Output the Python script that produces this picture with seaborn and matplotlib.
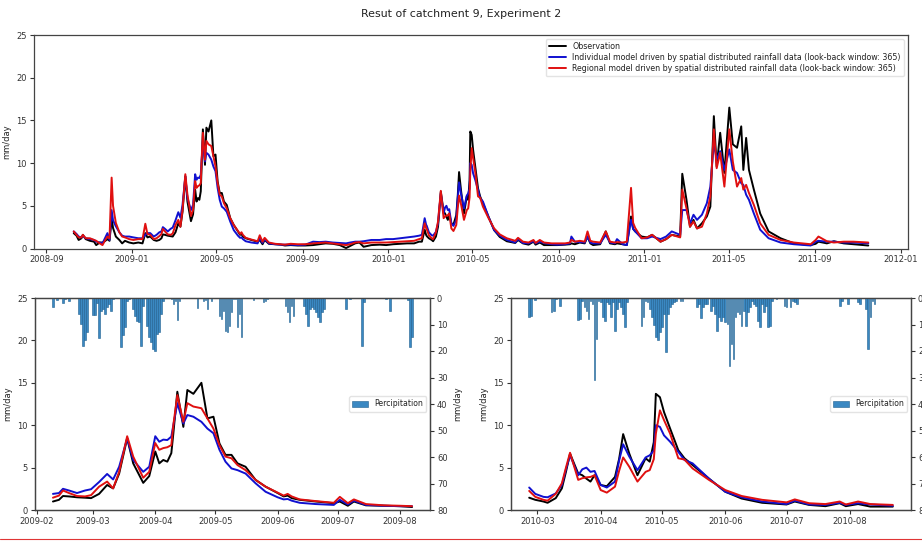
import numpy as np
import pandas as pd
import matplotlib
matplotlib.use("Agg")
import matplotlib.pyplot as plt
import matplotlib.dates as mdates
from matplotlib.lines import Line2D
import seaborn as sns

# ---------------- data ----------------
dates = [
    "2008-10-10", "2008-10-14", "2008-10-17", "2008-10-21", "2008-10-23", "2008-10-27",
    "2008-11-02", "2008-11-08", "2008-11-11", "2008-11-16", "2008-11-20", "2008-11-24",
    "2008-11-27", "2008-11-30", "2008-12-03", "2008-12-05", "2008-12-09", "2008-12-14",
    "2008-12-18", "2008-12-22", "2008-12-28", "2009-01-03", "2009-01-10", "2009-01-16",
    "2009-01-20", "2009-01-23", "2009-01-27", "2009-02-01", "2009-02-05",
    # 2009 window
    "2009-02-09", "2009-02-12", "2009-02-14", "2009-02-17", "2009-02-21", "2009-02-25",
    "2009-02-28", "2009-03-04", "2009-03-08", "2009-03-11", "2009-03-14", "2009-03-18",
    "2009-03-21", "2009-03-26", "2009-03-29", "2009-04-01", "2009-04-03", "2009-04-05",
    "2009-04-07", "2009-04-09", "2009-04-10", "2009-04-12", "2009-04-15", "2009-04-17",
    "2009-04-20", "2009-04-24", "2009-04-27", "2009-04-30", "2009-05-03", "2009-05-06",
    "2009-05-09", "2009-05-12", "2009-05-16", "2009-05-21", "2009-05-26", "2009-06-01",
    "2009-06-04", "2009-06-06", "2009-06-08", "2009-06-12", "2009-06-20", "2009-06-29",
    "2009-07-02", "2009-07-06", "2009-07-09", "2009-07-15", "2009-07-24", "2009-08-01",
    "2009-08-07",
    # autumn / winter 2009
    "2009-08-15", "2009-08-25", "2009-09-05", "2009-09-16", "2009-09-25", "2009-10-04",
    "2009-10-14", "2009-10-24", "2009-11-02", "2009-11-08", "2009-11-15", "2009-11-21",
    "2009-11-27", "2009-12-08", "2009-12-20", "2009-12-29", "2010-01-08", "2010-01-18",
    "2010-01-28", "2010-02-07", "2010-02-14", "2010-02-18", "2010-02-22", "2010-02-24",
    # 2010 window
    "2010-02-25", "2010-02-28", "2010-03-04", "2010-03-06", "2010-03-10", "2010-03-13",
    "2010-03-15", "2010-03-17", "2010-03-21", "2010-03-23", "2010-03-25", "2010-03-27",
    "2010-03-29", "2010-04-01", "2010-04-04", "2010-04-08", "2010-04-10", "2010-04-12",
    "2010-04-15", "2010-04-19", "2010-04-23", "2010-04-25", "2010-04-27", "2010-04-28",
    "2010-04-30", "2010-05-02", "2010-05-05", "2010-05-09", "2010-05-12", "2010-05-16",
    "2010-05-24", "2010-06-01", "2010-06-09", "2010-06-19", "2010-07-01", "2010-07-05",
    "2010-07-12", "2010-07-20", "2010-07-27", "2010-07-30", "2010-08-05", "2010-08-11",
    "2010-08-22",
    # autumn 2010 - 2011
    "2010-08-30", "2010-09-10", "2010-09-17", "2010-09-19", "2010-09-24", "2010-10-01",
    "2010-10-08", "2010-10-12", "2010-10-16", "2010-10-20", "2010-10-30", "2010-11-07",
    "2010-11-13", "2010-11-20", "2010-11-23", "2010-12-01", "2010-12-07", "2010-12-13",
    "2010-12-16", "2010-12-19", "2010-12-28", "2011-01-05", "2011-01-12", "2011-01-24",
    "2011-02-01", "2011-02-09", "2011-02-21", "2011-02-24", "2011-03-02", "2011-03-07",
    "2011-03-12", "2011-03-17", "2011-03-24", "2011-03-31", "2011-04-05", "2011-04-10",
    "2011-04-14", "2011-04-19", "2011-04-25", "2011-05-02", "2011-05-07", "2011-05-13",
    "2011-05-19", "2011-05-22", "2011-05-26", "2011-05-30", "2011-06-06", "2011-06-15",
    "2011-06-27", "2011-07-14", "2011-08-02", "2011-08-26", "2011-09-02", "2011-09-06",
    "2011-09-18", "2011-09-28", "2011-10-12", "2011-10-26", "2011-11-16",
]

obs = [
    1.8, 1.5, 1.0, 1.2, 1.6, 1.1, 0.9, 0.8, 0.4, 0.7, 0.7, 0.9, 1.1, 0.9, 3.5, 2.4, 1.4, 1.0,
    0.6, 0.9, 0.7, 0.6, 0.7, 0.6, 1.8, 1.3, 1.4, 1.0, 0.9,
    1.0, 1.2, 1.65, 1.6, 1.5, 1.45, 1.4, 1.9, 2.95, 2.55, 4.3, 8.45, 5.5, 3.2, 4.0, 6.9,
    5.5, 5.9, 5.7, 6.7, 9.0, 13.95, 9.8, 14.15, 13.7, 15.0, 10.8, 11.0, 7.85, 6.5, 6.5,
    5.5, 5.1, 3.55, 2.75, 2.0, 1.6, 1.7, 1.4, 1.2, 1.0, 0.8, 1.0, 0.5, 1.0, 0.55, 0.5,
    0.45, 0.35,
    0.4, 0.35, 0.35, 0.4, 0.5, 0.6, 0.55, 0.4, 0.05, 0.3, 0.6, 0.7, 0.2, 0.4, 0.45, 0.4,
    0.5, 0.55, 0.6, 0.6, 0.8, 0.8, 2.2, 1.6,
    1.45, 1.2, 1.0, 0.85, 1.4, 2.55, 4.5, 6.65, 4.3, 4.1, 3.7, 3.35, 4.1, 2.95, 2.8, 3.9,
    6.0, 8.95, 6.65, 4.1, 6.1, 5.7, 8.0, 13.7, 13.3, 11.55, 9.6, 7.05, 6.1, 5.3, 3.7,
    2.15, 1.35, 0.85, 0.65, 1.0, 0.6, 0.45, 0.8, 0.45, 0.7, 0.4, 0.4,
    0.4, 0.45, 0.5, 0.6, 0.5, 0.7, 0.6, 1.4, 0.6, 0.4, 0.5, 2.0, 0.6, 0.5, 0.6, 0.5, 0.4,
    3.75, 2.3, 2.0, 1.4, 1.3, 1.6, 0.8, 1.1, 1.6, 1.4, 8.75, 5.7, 2.55, 3.35, 2.35, 2.95,
    3.75, 4.9, 15.5, 9.6, 13.55, 8.85, 16.5, 12.2, 11.8, 14.3, 9.2, 12.95, 9.2, 6.9, 4.1,
    2.0, 1.2, 0.6, 0.4, 0.55, 0.8, 0.6, 0.85, 0.6, 0.5, 0.35,
]

ind = [
    2.0, 1.7, 1.4, 1.3, 1.5, 1.2, 1.1, 1.0, 0.8, 0.7, 0.6, 1.3, 1.8, 1.0, 4.5, 3.3, 2.6, 1.9,
    1.5, 1.4, 1.4, 1.3, 1.2, 1.2, 1.6, 1.8, 1.8, 1.4, 1.6,
    1.9, 2.0, 2.5, 2.3, 2.0, 2.3, 2.45, 3.3, 4.25, 3.6, 5.1, 8.45, 5.9, 4.5, 5.1, 8.7,
    8.05, 8.3, 8.25, 8.65, 10.0, 12.6, 10.2, 11.2, 11.0, 10.4, 9.6, 9.05, 7.1, 5.7, 4.9,
    4.7, 4.3, 3.15, 2.15, 1.5, 1.25, 1.3, 1.1, 0.85, 0.7, 0.6, 1.2, 0.65, 1.1, 0.6, 0.5,
    0.45, 0.45,
    0.45, 0.4, 0.45, 0.8, 0.75, 0.8, 0.7, 0.65, 0.6, 0.7, 0.8, 0.8, 0.85, 1.0, 1.0, 1.1,
    1.1, 1.2, 1.3, 1.4, 1.5, 1.6, 3.55, 2.8,
    2.65, 1.9, 1.55, 1.5, 1.95, 2.95, 4.8, 6.45, 4.1, 4.8, 5.0, 4.5, 4.6, 2.95, 2.65, 3.35,
    5.8, 7.75, 6.3, 4.7, 6.2, 6.45, 7.0, 10.0, 9.8, 8.8, 8.05, 6.85, 5.9, 5.5, 3.7,
    2.15, 1.5, 1.0, 0.7, 1.1, 0.65, 0.6, 0.85, 0.6, 0.8, 0.65, 0.5,
    0.45, 0.5, 0.6, 1.4, 0.8, 0.75, 0.7, 1.4, 0.7, 0.6, 0.6, 1.6, 0.7, 0.6, 1.1, 0.5, 0.4,
    3.35, 2.3, 2.0, 1.2, 1.2, 1.4, 1.1, 1.4, 2.0, 1.6, 4.5, 4.5, 2.95, 3.95, 3.35, 3.95,
    5.3, 7.25, 12.4, 10.4, 11.4, 9.2, 11.6, 9.2, 8.85, 7.65, 7.45, 6.3, 5.7, 4.1, 2.2,
    1.2, 0.7, 0.5, 0.35, 0.8, 0.9, 0.8, 0.8, 0.7, 0.7, 0.6,
]

reg = [
    2.0, 1.6, 1.3, 1.3, 1.6, 1.2, 1.2, 1.0, 0.9, 0.6, 0.4, 1.0, 1.4, 1.2, 8.3, 5.0, 3.0, 1.9,
    1.4, 1.3, 1.1, 1.0, 1.1, 1.1, 2.9, 1.7, 1.6, 1.1, 1.2,
    1.45, 1.7, 2.3, 2.0, 1.65, 1.6, 1.75, 2.75, 3.35, 2.55, 4.5, 8.7, 6.3, 3.8, 4.5, 7.9,
    7.1, 7.3, 7.4, 7.65, 10.0, 13.55, 10.4, 12.6, 12.2, 12.0, 10.8, 9.6, 7.65, 6.3, 6.1,
    5.3, 4.7, 3.55, 2.75, 2.05, 1.7, 1.9, 1.6, 1.25, 1.05, 0.85, 1.55, 0.8, 1.25, 0.7,
    0.55, 0.5, 0.45,
    0.55, 0.5, 0.5, 0.6, 0.65, 0.7, 0.6, 0.5, 0.4, 0.5, 0.7, 0.75, 0.6, 0.7, 0.7, 0.7,
    0.75, 0.8, 0.85, 0.9, 1.1, 1.2, 2.95, 2.4,
    2.25, 1.55, 1.2, 1.1, 1.9, 3.15, 5.0, 6.75, 3.55, 3.75, 3.85, 3.9, 4.1, 2.35, 2.05,
    2.75, 4.6, 6.2, 5.1, 3.35, 4.5, 4.7, 6.0, 9.0, 11.75, 10.6, 9.0, 6.1, 5.95, 4.9, 3.55,
    2.35, 1.65, 1.2, 0.9, 1.25, 0.8, 0.7, 1.0, 0.65, 1.0, 0.7, 0.6,
    0.6, 0.6, 0.7, 1.0, 0.8, 0.9, 0.8, 2.0, 0.9, 0.8, 0.7, 2.0, 0.8, 0.7, 0.75, 0.7, 0.8,
    7.1, 3.0, 2.4, 1.2, 1.3, 1.6, 0.8, 1.1, 1.6, 1.3, 6.9, 4.7, 2.55, 3.15, 2.35, 2.55,
    4.1, 6.1, 13.95, 9.4, 11.2, 7.25, 13.95, 10.2, 7.25, 8.25, 6.9, 7.45, 6.5, 5.1, 2.95,
    1.6, 1.0, 0.7, 0.5, 1.0, 1.4, 0.85, 0.7, 0.8, 0.8, 0.7,
]

rain_dates_2009 = [
    "2009-02-09", "2009-02-11", "2009-02-14", "2009-02-15", "2009-02-17", "2009-02-22",
    "2009-02-23", "2009-02-24", "2009-02-25", "2009-02-26", "2009-03-01", "2009-03-02",
    "2009-03-03", "2009-03-04", "2009-03-05", "2009-03-06", "2009-03-07", "2009-03-08",
    "2009-03-09", "2009-03-10", "2009-03-11", "2009-03-15", "2009-03-16", "2009-03-17",
    "2009-03-18", "2009-03-19", "2009-03-21", "2009-03-22", "2009-03-23", "2009-03-24",
    "2009-03-25", "2009-03-26", "2009-03-28", "2009-03-29", "2009-03-30", "2009-03-31",
    "2009-04-01", "2009-04-02", "2009-04-03", "2009-04-04", "2009-04-05", "2009-04-09",
    "2009-04-10", "2009-04-11", "2009-04-12", "2009-04-13", "2009-04-22", "2009-04-25",
    "2009-04-26", "2009-04-27", "2009-04-29", "2009-05-03", "2009-05-04", "2009-05-05",
    "2009-05-06", "2009-05-07", "2009-05-08", "2009-05-09", "2009-05-10", "2009-05-11",
    "2009-05-12", "2009-05-13", "2009-05-14", "2009-05-20", "2009-05-25", "2009-05-26",
    "2009-05-27", "2009-06-05", "2009-06-06", "2009-06-07", "2009-06-08", "2009-06-09",
    "2009-06-14", "2009-06-15", "2009-06-16", "2009-06-17", "2009-06-18", "2009-06-19",
    "2009-06-20", "2009-06-21", "2009-06-22", "2009-06-23", "2009-06-24", "2009-07-05",
    "2009-07-07", "2009-07-13", "2009-07-14", "2009-07-25", "2009-07-27", "2009-08-05",
    "2009-08-06", "2009-08-07",
]
rain_2009 = [
    3.5, 0.8, 2.0, 0.5, 1.0, 6.0, 9.8, 18.0, 16.0, 13.0, 6.3, 6.3, 2.0, 15.0, 4.8, 4.0,
    6.0, 3.5, 2.3, 4.8, 0.5, 18.4, 14.0, 11.0, 1.0, 0.5, 4.2, 6.7, 8.8, 9.2, 18.0, 3.0,
    10.4, 14.8, 16.7, 19.2, 19.9, 13.6, 13.0, 6.0, 1.0, 0.4, 2.3, 1.0, 8.3, 1.0, 3.8, 1.0,
    0.8, 4.2, 1.0, 6.7, 8.0, 5.0, 12.3, 13.0, 10.4, 5.4, 0.4, 0.4, 11.0, 6.0, 14.8, 0.8,
    1.5, 1.0, 0.5, 3.0, 5.4, 9.2, 3.0, 6.7, 3.0, 6.0, 10.4, 4.2, 3.5, 4.2, 5.4, 7.3, 9.2,
    5.4, 4.2, 4.2, 0.5, 18.0, 1.5, 0.2, 4.8, 0.8, 18.6, 14.8,
]

rain_dates_2010 = [
    "2010-02-25", "2010-02-26", "2010-02-28", "2010-03-08", "2010-03-09", "2010-03-10",
    "2010-03-12", "2010-03-21", "2010-03-22", "2010-03-23", "2010-03-24", "2010-03-25",
    "2010-03-26", "2010-03-27", "2010-03-28", "2010-03-29", "2010-03-30", "2010-03-31",
    "2010-04-01", "2010-04-02", "2010-04-03", "2010-04-04", "2010-04-05", "2010-04-06",
    "2010-04-07", "2010-04-08", "2010-04-09", "2010-04-10", "2010-04-11", "2010-04-12",
    "2010-04-13", "2010-04-14", "2010-04-21", "2010-04-22", "2010-04-23", "2010-04-24",
    "2010-04-25", "2010-04-26", "2010-04-27", "2010-04-28", "2010-04-29", "2010-04-30",
    "2010-05-01", "2010-05-02", "2010-05-03", "2010-05-04", "2010-05-05", "2010-05-06",
    "2010-05-07", "2010-05-08", "2010-05-10", "2010-05-11", "2010-05-18", "2010-05-19",
    "2010-05-20", "2010-05-21", "2010-05-22", "2010-05-23", "2010-05-25", "2010-05-26",
    "2010-05-27", "2010-05-28", "2010-05-29", "2010-05-30", "2010-05-31", "2010-06-01",
    "2010-06-02", "2010-06-03", "2010-06-04", "2010-06-05", "2010-06-06", "2010-06-07",
    "2010-06-08", "2010-06-09", "2010-06-10", "2010-06-11", "2010-06-12", "2010-06-13",
    "2010-06-14", "2010-06-15", "2010-06-16", "2010-06-17", "2010-06-18", "2010-06-19",
    "2010-06-20", "2010-06-21", "2010-06-22", "2010-06-23", "2010-06-24", "2010-06-26",
    "2010-06-30", "2010-07-01", "2010-07-03", "2010-07-04", "2010-07-05", "2010-07-06",
    "2010-07-27", "2010-07-28", "2010-07-31", "2010-08-05", "2010-08-06", "2010-08-09",
    "2010-08-10", "2010-08-11", "2010-08-12", "2010-08-13",
]
rain_2010 = [
    7.3, 6.7, 0.8, 5.4, 4.8, 0.4, 2.9, 8.3, 7.9, 1.0, 3.5, 4.8, 7.9, 1.0, 2.3, 31.0, 15.5,
    1.0, 1.6, 7.3, 8.8, 1.6, 2.3, 7.3, 1.6, 12.3, 4.2, 1.6, 3.5, 6.0, 11.0, 1.6, 10.4, 7.0,
    1.0, 1.6, 4.2, 7.0, 10.2, 14.8, 15.8, 13.0, 11.0, 6.0, 20.2, 6.0, 3.5, 2.3, 1.6, 1.0,
    1.0, 1.0, 3.5, 2.3, 7.5, 3.5, 2.3, 2.3, 4.8, 2.9, 6.0, 12.3, 7.3, 8.5, 7.3, 9.2, 9.8,
    25.5, 17.3, 23.0, 7.3, 5.4, 6.0, 10.4, 4.8, 10.4, 5.4, 3.5, 1.0, 2.3, 2.9, 8.5, 11.0,
    2.3, 5.4, 2.9, 11.0, 10.4, 1.0, 0.2, 2.9, 3.5, 3.5, 1.0, 1.6, 2.3, 2.9, 1.0, 2.3, 1.6,
    2.3, 4.2, 19.3, 7.3, 1.0, 2.3,
]

windows = [("2009-02-09", "2009-08-07"), ("2010-02-25", "2010-08-22")]
series_labels = [
    "Observation",
    "Individual model driven by spatial distributed rainfall data (look-back window: 365)",
    "Regional model driven by spatial distributed rainfall data (look-back window: 365)",
]
title = "Resut of catchment 9, Experiment 2"

# ---------------- figure ----------------
sns.set_style("ticks")
plt.rcParams["font.family"] = ["DejaVu Sans"]
plt.rcParams.update({
    "xtick.labelsize": 6, "ytick.labelsize": 6, "axes.labelsize": 6,
    "xtick.major.size": 2.6, "ytick.major.size": 2.6,
    "xtick.major.pad": 2.4, "ytick.major.pad": 2.4,
    "xtick.major.width": 0.8, "ytick.major.width": 0.8,
    "axes.linewidth": 0.9, "axes.edgecolor": "#444444",
    "xtick.color": "#333333", "ytick.color": "#333333",
    "text.color": "#222222", "axes.labelcolor": "#222222",
})

df = pd.DataFrame({"date": pd.to_datetime(dates), "obs": obs, "ind": ind, "reg": reg})
colors = {"obs": "black", "ind": "#1010d0", "reg": "#e01010"}
lw = 1.4

fig = plt.figure(figsize=(9.22, 5.45), dpi=100)
fig.suptitle(title, fontsize=7.9, y=0.975, va="center")

ax_top = fig.add_axes([34 / 922, 1 - 248.5 / 545, 874 / 922, 213.5 / 545])
for key, lab in zip(["obs", "ind", "reg"], series_labels):
    sns.lineplot(data=df, x="date", y=key, ax=ax_top, color=colors[key], lw=lw, label=lab)
ax_top.set_ylim(0, 25)
ax_top.set_ylabel("mm/day")
ax_top.set_xlabel("")
ax_top.xaxis.set_major_locator(mdates.MonthLocator(bymonth=[1, 5, 9]))
ax_top.xaxis.set_major_formatter(mdates.DateFormatter("%Y-%m"))
ax_top.legend(loc="upper right", fontsize=5.7, handlelength=2.2, borderpad=0.4,
              labelspacing=0.25, framealpha=0.8, edgecolor="#dddddd", fancybox=True)

rains = [(rain_dates_2009, rain_2009), (rain_dates_2010, rain_2010)]
bottom_pos = [
    [35 / 922, 1 - 510 / 545, 395 / 922, 212 / 545],
    [511 / 922, 1 - 510 / 545, 400 / 922, 212 / 545],
]
for (start, end), (rd, rv), pos in zip(windows, rains, bottom_pos):
    ax = fig.add_axes(pos)
    sub = df[(df["date"] >= start) & (df["date"] <= end)]
    for key in ["obs", "ind", "reg"]:
        sns.lineplot(data=sub, x="date", y=key, ax=ax, color=colors[key], lw=lw, legend=False)
    ax.set_ylim(0, 25)
    ax.set_ylabel("mm/day")
    ax.set_xlabel("")
    t0, t1 = pd.Timestamp(start), pd.Timestamp(end)
    pad = (t1 - t0) * 0.05
    ax2 = ax.twinx()
    ax2.bar(pd.to_datetime(rd), rv, width=0.8, color="#3a88c2", edgecolor="#1f5f8f",
            linewidth=0.4, label="Percipitation")
    ax2.set_ylim(80, 0)
    ax2.set_ylabel("mm/day")
    ax2.legend(loc="center right", fontsize=5.6, framealpha=0.8, edgecolor="#dddddd")
    ax.set_xlim(t0 - pad, t1 + pad)
    ax.xaxis.set_major_locator(mdates.MonthLocator())
    ax.xaxis.set_major_formatter(mdates.DateFormatter("%Y-%m"))
    ax.yaxis.set_major_locator(plt.MultipleLocator(5))
    ax2.yaxis.set_major_locator(plt.MultipleLocator(10))

# thin red rule at the bottom edge, as in the reference screenshot
fig.add_artist(Line2D([0, 1], [1 - 539 / 545, 1 - 539 / 545], color="#e03535", lw=0.8,
                      transform=fig.transFigure))

fig.savefig("out.png", dpi=100)
